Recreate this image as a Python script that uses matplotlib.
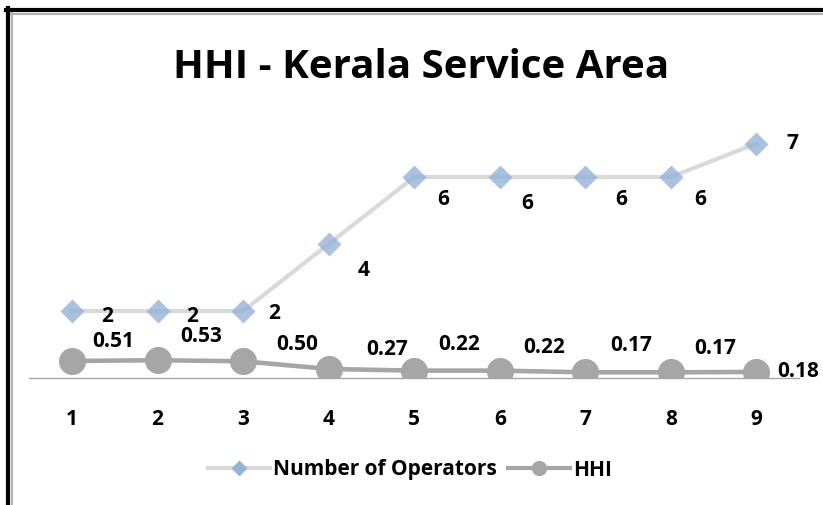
import matplotlib.pyplot as plt
from matplotlib.lines import Line2D

plt.rcParams['font.family'] = ['Open Sans', 'DejaVu Sans']

# data
periods = [1, 2, 3, 4, 5, 6, 7, 8, 9]
operators = [2, 2, 2, 4, 6, 6, 6, 6, 7]
hhi = [0.51, 0.53, 0.50, 0.27, 0.22, 0.22, 0.17, 0.17, 0.18]
hhi_labels = ['0.51', '0.53', '0.50', '0.27', '0.22', '0.22', '0.17', '0.17', '0.18']

# label offsets (points) - Excel had them nudged by hand
op_off = [(25, -4), (25, -4), (22, -2), (25, -19), (21, -16), (20, -19), (26, -16), (21, -16), (26, 0)]
hhi_off = [(30, 14), (31, 17), (39, 12), (42, 14), (32, 19), (32, 17), (33, 19), (32, 17), (30, 0)]

blue = '#95B3D7'
light = '#D9D9D9'
grey = '#A6A6A6'

fig = plt.figure(figsize=(8.23, 5.05), dpi=100)

# frame like the screenshot (black outer, grey inner, left + top only)
W, H = 823, 505
fig.add_artist(Line2D([6 / W, 1], [1 - 10 / H, 1 - 10 / H], color='black', lw=3, transform=fig.transFigure))
fig.add_artist(Line2D([8 / W, 8 / W], [0, 1 - 8 / H], color='black', lw=3, transform=fig.transFigure))
fig.add_artist(Line2D([11 / W, 1], [1 - 13.5 / H, 1 - 13.5 / H], color='#B0B0B0', lw=1.5, transform=fig.transFigure))
fig.add_artist(Line2D([11.5 / W, 11.5 / W], [0, 1 - 13 / H], color='#B0B0B0', lw=1.5, transform=fig.transFigure))

ax = fig.add_axes([29.25 / W, 127 / H, 770 / W, 268 / H])
ax.set_xlim(0.5, 9.5)
ax.set_ylim(0, 8)

ax.plot(periods, operators, color=light, lw=3, zorder=2)
ax.plot(periods, operators, ls='none', marker='D', ms=12.5, color=blue, alpha=0.8, mec='none', zorder=3)
ax.plot(periods, hhi, color=grey, lw=3.3, marker='o', ms=19.5, mec='none', zorder=4)

for x, y, (dx, dy) in zip(periods, operators, op_off):
    ax.annotate(str(y), (x, y), xytext=(dx, dy), textcoords='offset points',
                ha='center', va='center', fontsize=15, fontweight='bold')
for x, y, lab, (dx, dy) in zip(periods, hhi, hhi_labels, hhi_off):
    ax.annotate(lab, (x, y), xytext=(dx, dy), textcoords='offset points',
                ha='center', va='center', fontsize=15, fontweight='bold')

for s in ['top', 'right', 'left']:
    ax.spines[s].set_visible(False)
ax.spines['bottom'].set_color(grey)
ax.spines['bottom'].set_linewidth(1)
ax.set_yticks([])
ax.set_xticks(periods)
ax.set_xticklabels([str(p) for p in periods], fontsize=15, fontweight='bold')
ax.tick_params(axis='x', length=0, pad=22)
ax.patch.set_visible(False)

fig.text(421 / W, 1 - 68 / H, 'HHI - Kerala Service Area', ha='center', va='center',
         fontsize=29, fontweight='bold')

handles = [
    Line2D([], [], color=light, lw=3, marker='D', ms=8, mfc=blue, mec='none'),
    Line2D([], [], color=grey, lw=3, marker='o', ms=11, mec='none'),
]
fig.legend(handles, ['Number of Operators', 'HHI'], loc='center', ncol=2,
           bbox_to_anchor=(410 / W, 1 - 470 / H), frameon=False,
           prop={'size': 15, 'weight': 'bold'}, handlelength=3.0,
           handletextpad=0.15, columnspacing=0.5)

fig.savefig('out.png', dpi=100)
